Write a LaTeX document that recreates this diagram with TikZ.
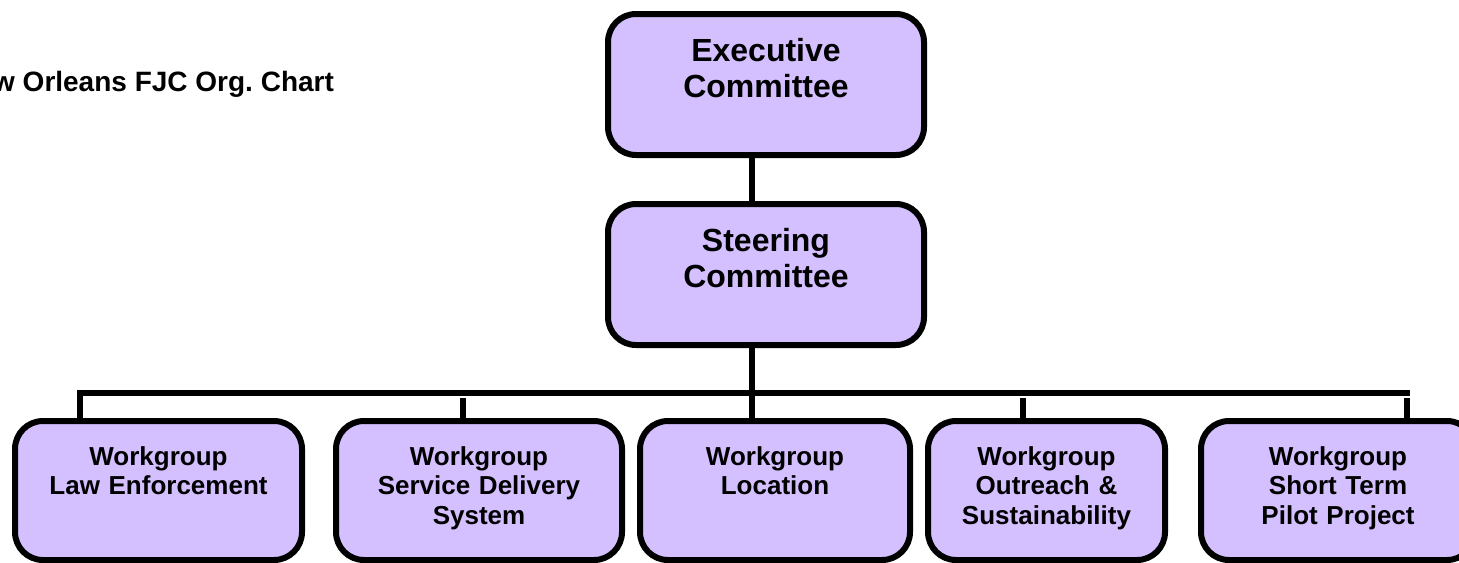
\documentclass[tikz,border=0pt]{standalone}
\usepackage{fontspec}
\setmainfont{Liberation Sans}
\definecolor{boxfill}{RGB}{212,191,255}

\begin{document}
\begin{tikzpicture}[x=0.5pt, y=-0.5pt,
	board/.style={draw, line width=3pt, fill=boxfill, rounded corners=14pt, inner sep=0pt, align=center, anchor=north, font=\fontsize{16}{18.4}\selectfont\bfseries, text width=158pt, text height=23.5pt, text depth=47pt},
	group/.style={board, font=\fontsize{13}{14.95}\selectfont\bfseries, text height=22pt, text depth=47.5pt},
	link/.style={line width=3pt}]
\useasboundingbox (0,0) rectangle (1459,562);

% Title (cut off at the left edge)
\node[anchor=base east, font=\fontsize{14}{16}\selectfont\bfseries] (title) at (341, 91) {New Orleans FJC Org.\ Chart};

% Committees
\node[board] (exec) at (766, 11) {Executive\\Committee};
\node[board] (steer) at (766, 201) {Steering\\Committee};

% Workgroups
\node[group, text width=143.5pt] (law) at (158.5, 418) {Workgroup\\Law Enforcement};
\node[group, text width=143pt] (service) at (479, 418) {Workgroup\\Service Delivery\\System};
\node[group, text width=135pt] (loc) at (775, 418) {Workgroup\\Location};
\node[group, text width=118.5pt] (outreach) at (1046.5, 418) {Workgroup\\Outreach \&\\Sustainability};
\node[group, text width=137pt] (pilot) at (1338, 418) {Workgroup\\Short Term\\Pilot Project};

% Trunk and bar
\coordinate (trunk) at (752, 393);
\coordinate (barL) at (79.5, 393);
\coordinate (barR) at (1410, 393);
\draw[link] (exec.south -| trunk) -- (steer.north -| trunk);
\draw[link] (steer.south -| trunk) -- (loc.north -| trunk);
\draw[link] (law.north -| barL) -- (barL) -- (barR);

% Short drops under the bar
\foreach \n/\x in {service/463, outreach/1023, pilot/1407} {
	\coordinate (\n top) at (\x, 398);
	\draw[link] (\n top) -- ([yshift=-2.5pt]\n.north -| \n top);
}

\end{tikzpicture}
\end{document}
